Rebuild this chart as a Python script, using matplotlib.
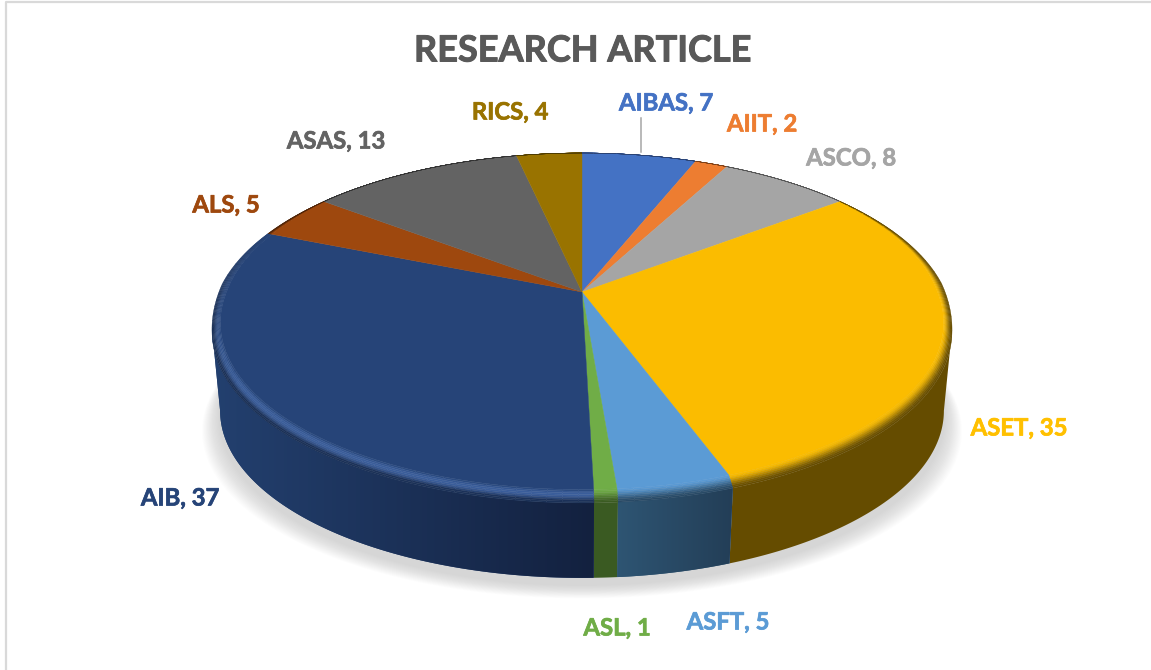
import numpy as np
import matplotlib
matplotlib.use("Agg")
import matplotlib.pyplot as plt
import matplotlib.patheffects as pe
from matplotlib.colors import to_rgb, LinearSegmentedColormap
from matplotlib.patches import Polygon

names = ["AIBAS", "AIIT", "ASCO", "ASET", "ASFT", "ASL", "AIB", "ALS", "ASAS", "RICS"]
values = [7, 2, 8, 35, 5, 1, 37, 5, 13, 4]

face_colors = ["#4472c4", "#ed7d31", "#a5a5a5", "#fbbc00", "#5b9bd5",
               "#70ad47", "#264478", "#9e480e", "#636363", "#997300"]
text_colors = ["#4472c4", "#ed7d31", "#a5a5a5", "#ffc000", "#5b9bd5",
               "#70ad47", "#264478", "#9e480e", "#636363", "#997300"]
# side wall colour at the left and right end of each slice
wall_left = ["#2a4070", "#763d18", "#505050", "#654c00", "#2e5573",
             "#3a5a22", "#23406f", "#4d2307", "#303030", "#4a3800"]
wall_right = ["#2a4070", "#763d18", "#505050", "#654c00", "#233e57",
              "#3a5a22", "#13213f", "#4d2307", "#303030", "#4a3800"]
label_pos = [(666, 103), (762, 124), (851, 158), (1019, 428), (728, 622),
             (617, 628), (180, 498), (226, 205), (336, 141), (510, 112)]

title = "RESEARCH ARTICLE"

# pie geometry in pixels, the disc is a circle seen in perspective
cx, hub_y = 582, 292
bottom_y = 379.4
rx, ry, persp = 363.5, 165, 0.187
bottom_scale = 0.978
bevel_r = 0.022
bevel_dy = 8


def project(theta, r=1.0, y0=hub_y, scale=1.0):
    t = np.radians(theta)
    u = r * np.sin(t)
    v = r * np.cos(t)
    d = 1 + persp * v
    return cx + scale * rx * u / d, y0 - scale * ry * v / d


def mix(a, b, t):
    a = np.array(to_rgb(a))
    b = np.array(to_rgb(b))
    return tuple(a + (b - a) * t)


def bevel_curve(theta, t):
    v = np.cos(np.radians(theta))
    f_r = np.clip((0.62 - v) / 0.62, 0, 1) ** 0.6
    f_y = np.clip((0.05 - v) / 0.35, 0, 1)
    x, y = project(theta, 1 - bevel_r * f_r * (1 - t))
    return x, y + bevel_dy * f_y * t


fig = plt.figure(figsize=(11.51, 6.7), dpi=100)
ax = fig.add_axes([0, 0, 1, 1])
ax.set_xlim(0, 1151)
ax.set_ylim(670, 0)
ax.axis("off")

# frame of the chart area
ax.plot([6.5, 6.5, 1151], [670, 1.5, 1.5], color="#d9d9d9", lw=1.6, zorder=1)

# soft shadow under the disc
all_theta = np.linspace(0, 360, 361)
for grow in np.linspace(18, 1, 16):
    x, y = project(all_theta, 1, bottom_y, bottom_scale)
    ax.add_patch(Polygon(np.c_[cx + (x - cx) * (1 + grow / 362), y + 7 + grow * 0.75],
                         closed=True, fc="#808080", ec="none", alpha=0.021, zorder=2))

edges = np.concatenate([[0], np.cumsum(values)]) / sum(values) * 360
wall_from, wall_to = 100.8, 259.2

# side walls
for i in range(len(values)):
    a = max(edges[i], wall_from)
    b = min(edges[i + 1], wall_to)
    if b <= a:
        continue
    ts = np.linspace(a, b, 100)
    xt, yt = bevel_curve(ts, 1)
    xb, yb = project(ts, 1, bottom_y, bottom_scale)
    pts = np.vstack([np.c_[xt, yt], np.c_[xb, yb][::-1]])
    wall = Polygon(pts, closed=True, fc=wall_left[i], ec="none", zorder=3)
    ax.add_patch(wall)
    if wall_left[i] != wall_right[i]:
        cmap = LinearSegmentedColormap.from_list("wall", [wall_left[i], wall_right[i]])
        im = ax.imshow(np.linspace(0, 1, 256).reshape(1, -1), cmap=cmap, aspect="auto",
                       extent=[pts[:, 0].min(), pts[:, 0].max(), pts[:, 1].max(), pts[:, 1].min()],
                       zorder=3.5)
        im.set_clip_path(wall)

ax.set_xlim(0, 1151)
ax.set_ylim(670, 0)

# top faces
for i in range(len(values)):
    ts = np.linspace(edges[i], edges[i + 1], 120)
    x, y = bevel_curve(ts, 0)
    pts = np.vstack([[cx, hub_y], np.c_[x, y]])
    ax.add_patch(Polygon(pts, closed=True, fc=face_colors[i], ec=face_colors[i],
                         lw=0.3, zorder=4))

# rounded rim between top and wall, cut in short pieces so it can fade along the edge
levels = np.linspace(0, 1, 9)
for i in range(len(values)):
    wall_mid = mix(wall_left[i], wall_right[i], 0.5)
    n_piece = max(int((edges[i + 1] - edges[i]) / 2), 1)
    pieces = np.linspace(edges[i], edges[i + 1], n_piece + 1)
    for p0, p1 in zip(pieces[:-1], pieces[1:]):
        ts = np.linspace(p0, p1, 8)
        v = np.cos(np.radians((p0 + p1) / 2))
        dark = np.clip((0.45 - v) / 0.55, 0.0, 1.0) if names[i] == "AIB" else 1.0
        glow = np.clip((0.1 - v) / 0.6, 0.0, 1.0)
        for t0, t1 in zip(levels[:-1], levels[1:]):
            tm = (t0 + t1) / 2
            col = mix(face_colors[i], wall_mid, dark * tm ** 2 * (3 - 2 * tm))
            if names[i] == "AIB":
                col = mix(col, "#4a72b8", glow * 0.62 * np.sin(np.pi * min(tm * 1.25, 1)))
            x0, y0 = bevel_curve(ts, t0)
            x1, y1 = bevel_curve(ts, t1)
            pts = np.vstack([np.c_[x0, y0], np.c_[x1, y1][::-1]])
            ax.add_patch(Polygon(pts, closed=True, fc=col, ec=col, lw=0.25, zorder=5))

# labels
for i in range(len(values)):
    ax.text(label_pos[i][0], label_pos[i][1], f"{names[i]}, {values[i]}",
            color=text_colors[i], family="Lato", weight="bold", fontsize=17.2,
            ha="center", va="center", zorder=7,
            path_effects=[pe.withStroke(linewidth=0.5, foreground=text_colors[i])])
ax.plot([641, 641], [118, 152], color="#a6a6a6", lw=1.1, zorder=6)

ax.text(582.5, 51, title, color="#595959", family="Lato", weight="bold", fontsize=26,
        ha="center", va="center", zorder=7,
        path_effects=[pe.withStroke(linewidth=0.7, foreground="#595959")])

fig.savefig("out.png", dpi=100)
